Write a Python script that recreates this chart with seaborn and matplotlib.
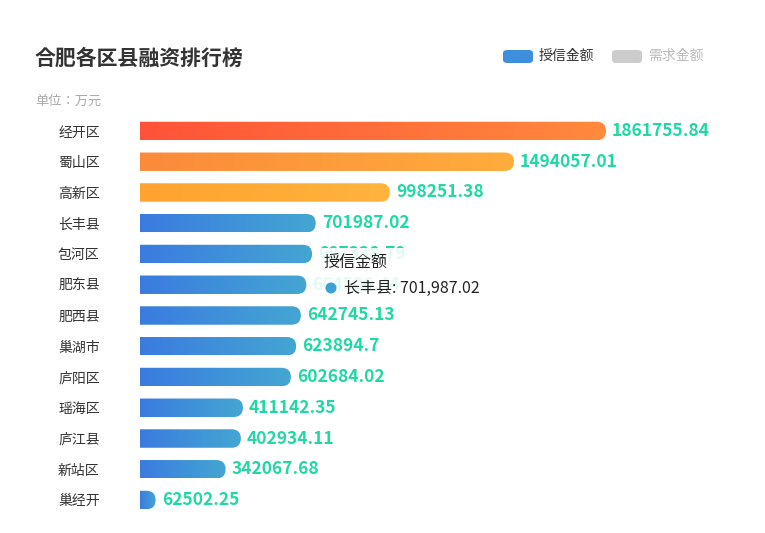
import numpy as np
import pandas as pd
import seaborn as sns
import matplotlib
matplotlib.use("Agg")
import matplotlib.pyplot as plt
from matplotlib.patches import FancyBboxPatch
from matplotlib.colors import LinearSegmentedColormap

plt.rcParams["font.family"] = ["Noto Sans CJK SC", "Noto Sans CJK JP", "DejaVu Sans"]
plt.rcParams["font.sans-serif"] = ["Noto Sans CJK SC", "Noto Sans CJK JP", "DejaVu Sans"]

districts = ["经开区", "蜀山区", "高新区", "长丰县", "包河区", "肥东县", "肥西县",
             "巢湖市", "庐阳区", "瑶海区", "庐江县", "新站区", "巢经开"]
credit = [1861755.84, 1494057.01, 998251.38, 701987.02, 687338.79, 664506.44,
          642745.13, 623894.7, 602684.02, 411142.35, 402934.11, 342067.68, 62502.25]
value_labels = ["1861755.84", "1494057.01", "998251.38", "701987.02", "687338.79",
                "664506.44", "642745.13", "623894.7", "602684.02", "411142.35",
                "402934.11", "342067.68", "62502.25"]

grad_colors = [("#ff5238", "#ff8a3d"), ("#fb8a3a", "#ffad3c"), ("#ffa230", "#ffb43d")] + \
              [("#3a7be0", "#44a6d2")] * 10

df = pd.DataFrame({"district": districts, "credit": credit})

W, H = 765, 533
fig = plt.figure(figsize=(W / 100, H / 100), dpi=100)
ax_l, ax_r, ax_t, ax_b = 140, 740, 115.6, 515.4
ax = fig.add_axes([ax_l / W, (H - ax_b) / H, (ax_r - ax_l) / W, (ax_b - ax_t) / H])

xmax = max(credit) * (ax_r - ax_l) / 466.0
sns.barplot(data=df, x="credit", y="district", orient="h", ax=ax, width=0.6,
            color="#3a7be0")
ax.set_xlim(0, xmax)
ax.set_ylim(len(districts) - 0.5, -0.5)

# data units per pixel
dx = xmax / (ax_r - ax_l)
dy = len(districts) / (ax_b - ax_t)

for i, p in enumerate(list(ax.patches)):
    x0, y0 = p.get_x(), p.get_y()
    w, h = p.get_width(), p.get_height()
    p.remove()
    r = h / dy / 2 * dx
    patch = FancyBboxPatch((-r, y0), w + r, h,
                           boxstyle=f"round,pad=0,rounding_size={r}",
                           mutation_aspect=dy / dx, linewidth=0, facecolor="none")
    ax.add_patch(patch)
    cmap = LinearSegmentedColormap.from_list("g", grad_colors[i])
    im = ax.imshow(np.linspace(0, 1, 256).reshape(1, -1), cmap=cmap, aspect="auto",
                   extent=(0, w, y0 + h, y0), zorder=2)
    im.set_clip_path(patch)
    ax.text(w + 6 * dx, i, value_labels[i], va="center", ha="left", fontsize=12.5,
            fontweight="bold", color="#1fd8a5", zorder=3)

ax.set_xlabel("")
ax.set_ylabel("")
ax.set_xticks([])
ax.set_yticks(range(len(districts)))
ax.set_yticklabels(districts, fontsize=10, color="#333333")
ax.tick_params(axis="y", length=0, pad=44)
for t in ax.get_yticklabels():
    t.set_ha("center")
for s in ax.spines.values():
    s.set_visible(False)
ax.set_xlim(0, xmax)
ax.set_ylim(len(districts) - 0.5, -0.5)

fig.text(35 / W, 1 - 58 / H, "合肥各区县融资排行榜", fontsize=15, fontweight="bold",
         color="#333333", va="center")
fig.text(35 / W, 1 - 101 / H, "单位：万元", fontsize=9.5, color="#aaaaaa", va="center")

# legend
fig.patches.append(FancyBboxPatch((503 / W, 1 - 63 / H), 30 / W, 13 / H,
                                  boxstyle="round,pad=0,rounding_size=0.006",
                                  transform=fig.transFigure, facecolor="#3d8fdc", linewidth=0))
fig.text(539 / W, 1 - 56 / H, "授信金额", fontsize=10, color="#333333", va="center")
fig.patches.append(FancyBboxPatch((612 / W, 1 - 63 / H), 30 / W, 13 / H,
                                  boxstyle="round,pad=0,rounding_size=0.006",
                                  transform=fig.transFigure, facecolor="#cccccc", linewidth=0))
fig.text(648 / W, 1 - 56 / H, "需求金额", fontsize=10, color="#bbbbbb", va="center")

# tooltip (semi-transparent box over the chart)
fig.patches.append(FancyBboxPatch((314 / W, 1 - 304 / H), 190 / W, 56 / H,
                                  boxstyle="round,pad=0,rounding_size=0.005",
                                  transform=fig.transFigure, facecolor="white",
                                  alpha=0.88, linewidth=0, zorder=5))
fig.text(324 / W, 1 - 263 / H, "授信金额", fontsize=11.5, color="#222222", va="center",
         zorder=6)
fig.patches.append(matplotlib.patches.Ellipse((331 / W, 1 - 288 / H), 11 / W, 11 / H,
                                              transform=fig.transFigure, zorder=6,
                                              facecolor="#3fa0d4", linewidth=0))
fig.text(344 / W, 1 - 288 / H, "长丰县: 701,987.02", fontsize=11.5, color="#222222",
         va="center", zorder=6)

fig.savefig("out.png", dpi=100, facecolor="white")
